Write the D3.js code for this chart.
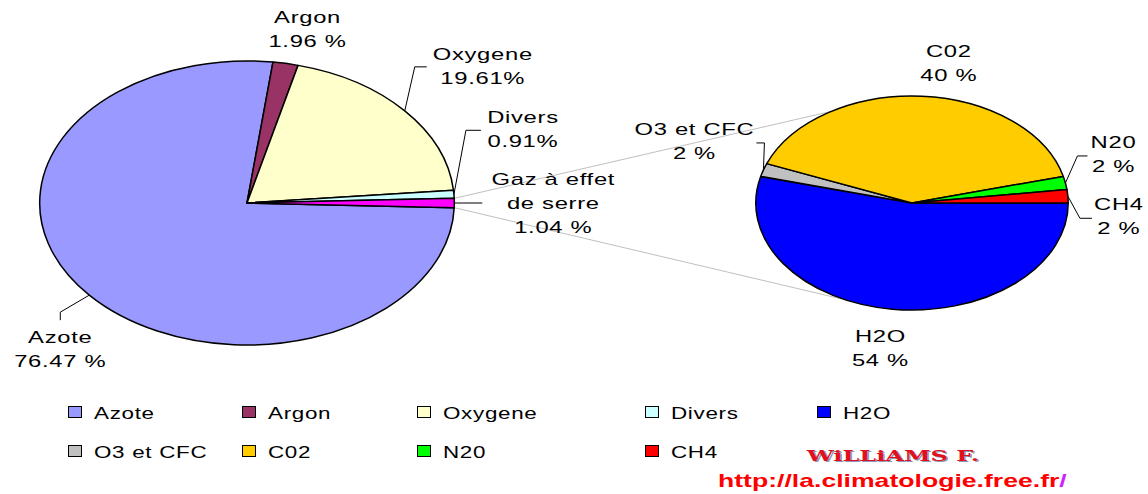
<!DOCTYPE html>
<html>
<head>
<meta charset="utf-8">
<script src="https://cdn.jsdelivr.net/npm/d3@7"></script>
<style>
    body { margin: 0; background: #fff; }
    text { font-family: "Liberation Sans", Arial, sans-serif; fill: #000; }
</style>
</head>
<body>
<svg id="chart"></svg>
<script>
// Composition de l'air (pourcentages)
const airCategories = ['Azote', 'Argon', 'Oxygene', 'Divers', 'Gaz à effet de serre'];
const airValues = [76.47, 1.96, 19.61, 0.91, 1.04];
const airLabels = [['Azote', '76.47 %'], ['Argon', '1.96 %'], ['Oxygene', '19.61%'], ['Divers', '0.91%'], ['Gaz à effet', 'de serre', '1.04 %']];

// Detail des gaz a effet de serre
const ghgCategories = ['H2O', 'O3 et CFC', 'C02', 'N20', 'CH4'];
const ghgValues = [54, 2, 40, 2, 2];
const ghgLabels = [['H2O', '54 %'], ['O3 et CFC', '2 %'], ['C02', '40 %'], ['N20', '2 %'], ['CH4', '2 %']];

const legendItems = ['Azote', 'Argon', 'Oxygene', 'Divers', 'H2O', 'O3 et CFC', 'C02', 'N20', 'CH4'];

const colors = {
    'Azote': '#9999ff', 'Argon': '#993366', 'Oxygene': '#ffffcc', 'Divers': '#ccffff',
    'Gaz à effet de serre': '#ff00ff', 'H2O': '#0000ff', 'O3 et CFC': '#c0c0c0',
    'C02': '#ffcc00', 'N20': '#00ff00', 'CH4': '#ff0000'
};

const width = 1148, height = 494;
const stretch = 1.46;     // the whole picture is stretched horizontally
const textStretch = 1.4;

const svg = d3.select('#chart').attr('width', width).attr('height', height);

// label layout: leader line offsets (from slice edge) and text offset
const airLayout = [
    {line: [[-29, 17], [-29, 25]], text: [-29, 48]},
    {line: null, text: [22, -40]},
    {line: [[10, -44], [22, -44]], text: [78, -51]},
    {line: [[12, -64], [27, -64]], text: [69, -71]},
    {line: [[28, 0]], text: [99, -18]}
];
const ghgLayout = [
    {line: null, text: [-12, 33]},
    {line: [[1, -27], [-7, -27]], text: [-69, -35]},
    {line: null, text: [27, -39]},
    {line: [[12, -27], [22, -27]], text: [48, -35]},
    {line: [[12, 22], [24, 22]], text: [51, 14]}
];

const deg = Math.PI / 180;

// Left pie: the "other" slice (last) is centred at 3 o'clock
const airTotal = d3.sum(airValues);
const airStart = Math.PI / 2 + 2 * Math.PI * (airValues[airValues.length - 1] / 2) / airTotal;
const airPie = d3.pie().sort(null).startAngle(airStart).endAngle(airStart + 2 * Math.PI);
const ghgPie = d3.pie().sort(null).startAngle(Math.PI / 2).endAngle(Math.PI / 2 + 2 * Math.PI);

const left = {cx: 247, cy: 203, r: 142};
const right = {cx: 912, cy: 203, r: 107};

// point on the stretched pie edge
function edge(p, a) {
    return [p.cx + stretch * p.r * Math.sin(a), p.cy - p.r * Math.cos(a)];
}

// connector lines between the pies (drawn first, under everything)
const airArcs = airPie(airValues);
const gaz = airArcs[airArcs.length - 1];
const conn = svg.append('g').attr('stroke', '#c0c0c0').attr('stroke-width', 1).attr('fill', 'none');
[[gaz.startAngle, -31 * deg], [gaz.endAngle, 205 * deg]].forEach(([a0, a1]) => {
    const p0 = edge(left, a0), p1 = edge(right, a1);
    conn.append('line').attr('x1', p0[0]).attr('y1', p0[1]).attr('x2', p1[0]).attr('y2', p1[1]);
});

function drawPie(p, arcs, cats, labels, layout) {
    const arc = d3.arc().innerRadius(0).outerRadius(p.r);
    const g = svg.append('g')
        .attr('transform', `translate(${p.cx},${p.cy}) scale(${stretch},1)`);
    g.selectAll('path')
        .data(arcs)
        .join('path')
        .attr('d', arc)
        .attr('fill', (d, i) => colors[cats[i]])
        .attr('stroke', '#000')
        .attr('stroke-width', 1.5)
        .attr('stroke-linejoin', 'round')
        .attr('vector-effect', 'non-scaling-stroke');

    arcs.forEach((d, i) => {
        const mid = (d.startAngle + d.endAngle) / 2;
        const e = edge(p, mid);
        const lay = layout[i];
        if (lay.line) {
            const pts = [e].concat(lay.line.map(o => [e[0] + o[0], e[1] + o[1]]));
            svg.append('path')
                .attr('d', d3.line()(pts))
                .attr('fill', 'none')
                .attr('stroke', '#000')
                .attr('stroke-width', 1);
        }
        const t = svg.append('g')
            .attr('transform', `translate(${e[0] + lay.text[0]},${e[1] + lay.text[1]}) scale(${textStretch},1)`);
        labels[i].forEach((s, k) => {
            t.append('text')
                .attr('y', k * 24)
                .attr('text-anchor', 'middle')
                .attr('font-size', 17)
                .attr('letter-spacing', 0.5)
                .text(s);
        });
    });
}

drawPie(left, airArcs, airCategories, airLabels, airLayout);
drawPie(right, ghgPie(ghgValues), ghgCategories, ghgLabels, ghgLayout);

// Legend
const legendCols = [68, 242, 417, 645, 817];
const legendRows = [413, 452];
const legend = svg.append('g');
legendItems.forEach((name, i) => {
    const row = i < 5 ? 0 : 1;
    const col = i < 5 ? i : i - 5;
    const x = legendCols[col], y = legendRows[row];
    legend.append('rect')
        .attr('x', x + 0.5).attr('y', y - 6.5)
        .attr('width', 13).attr('height', 11)
        .attr('fill', colors[name])
        .attr('stroke', '#000').attr('stroke-width', 1);
    legend.append('g')
        .attr('transform', `translate(${x + 26},${y + 6}) scale(${textStretch},1)`)
        .append('text')
        .attr('font-size', 16)
        .attr('letter-spacing', 0.5)
        .text(name);
});

// Signature
const sig = svg.append('g').attr('transform', `translate(893,461) scale(1.6,1)`);
sig.append('text')
    .attr('x', 1).attr('y', 1)
    .attr('text-anchor', 'middle')
    .style('font-family', '"DejaVu Serif", serif')
    .style('font-weight', 'bold')
    .style('font-size', '15px')
    .style('fill', '#8a9ab8')
    .text('WiLLiAMS F.');
sig.append('text')
    .attr('text-anchor', 'middle')
    .style('font-family', '"DejaVu Serif", serif')
    .style('font-weight', 'bold')
    .style('font-size', '15px')
    .style('fill', '#e0101e')
    .text('WiLLiAMS F.');

const url = svg.append('g').attr('transform', `translate(718,487) scale(1.4,1)`);
const ut = url.append('text')
    .style('font-family', '"Liberation Sans", Arial, sans-serif')
    .style('font-weight', 'bold')
    .style('font-size', '19px');
ut.append('tspan').style('fill', '#ff0000').text('http://la.climatologie.free.fr');
ut.append('tspan').style('fill', '#cc22ff').text('/');
</script>
</body>
</html>
